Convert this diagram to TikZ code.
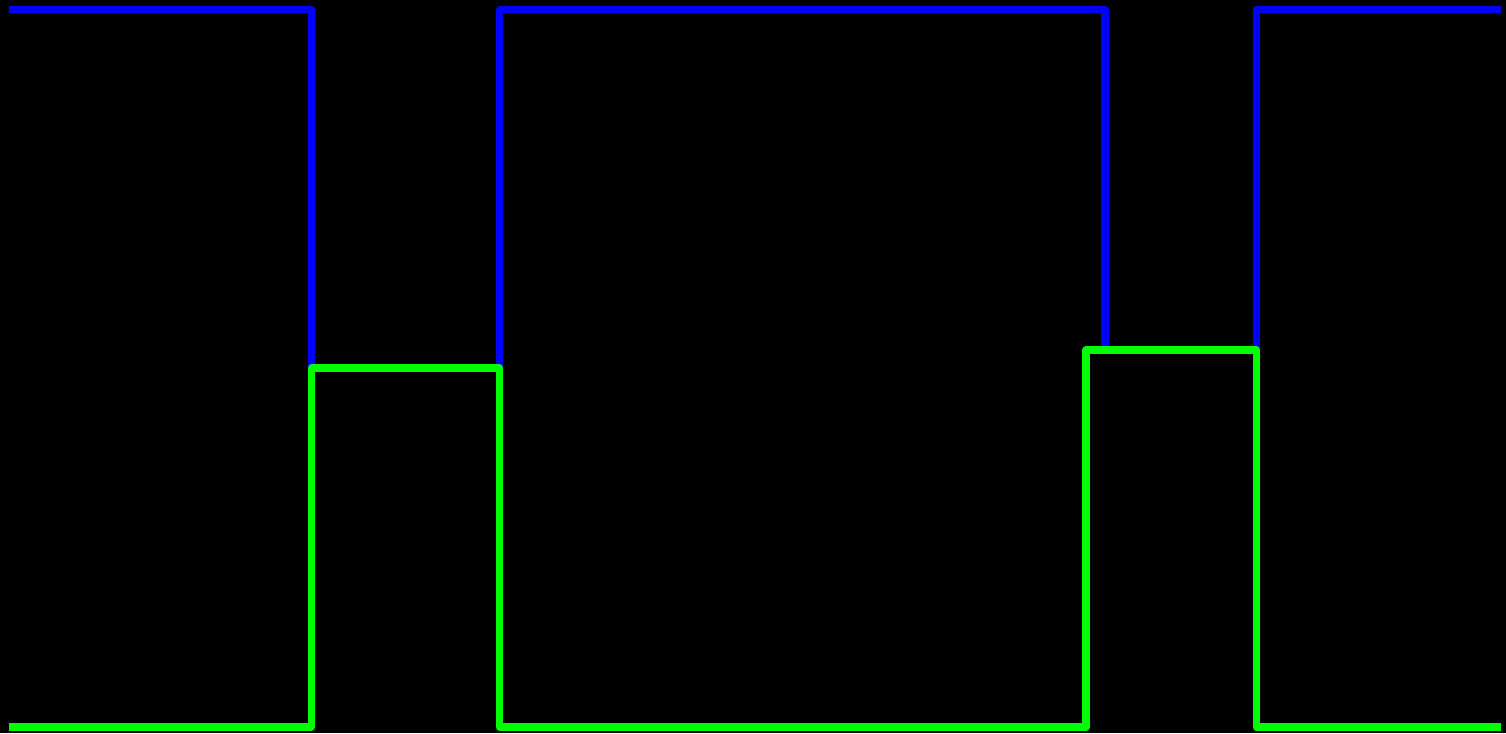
\documentclass[tikz,border=0pt]{standalone}
\usepackage{tikz}
\definecolor{traceblue}{RGB}{0, 0, 255}
\definecolor{tracegreen}{RGB}{0, 255, 0}
\tikzset{
  trace/.style={line width=2pt, line join=round, line cap=butt}
}

\begin{document}
\begin{tikzpicture}[x=0.01cm, y=-0.01cm]
      \fill[black] (0,0) rectangle (1506,733);
      \useasboundingbox (0,0) rectangle (1506,733);

      \draw[trace, traceblue] (9,9.5) -- (311.5,9.5) -- (311.5,368) -- (499.5,368) -- (499.5,9.5) -- (1105,9.5) -- (1105,350) -- (1256,350) -- (1256,9.5) -- (1501,9.5);
      \draw[trace, tracegreen] (9,727) -- (311.5,727) -- (311.5,368) -- (499.5,368) -- (499.5,727) -- (1086,727) -- (1086,350) -- (1256,350) -- (1256,727) -- (1501,727);
    \end{tikzpicture}
\end{document}
